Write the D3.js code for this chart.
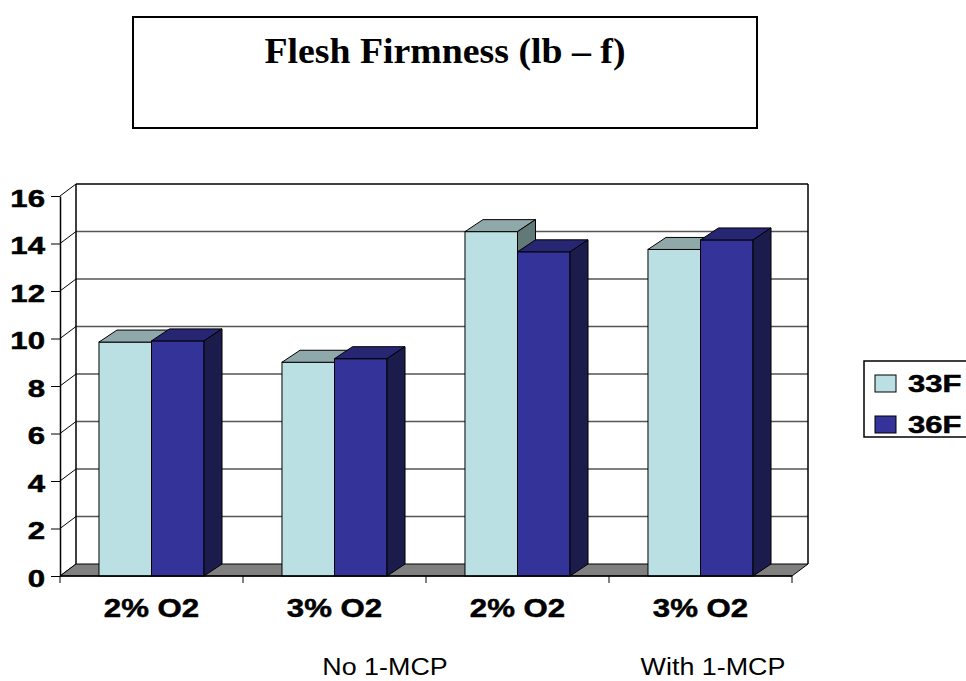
<!DOCTYPE html>
<html>
<head>
<meta charset="utf-8">
<script src="https://cdn.jsdelivr.net/npm/d3@7"></script>
<style>
    body { margin: 0; background: #fff; }
    svg { display: block; }
</style>
</head>
<body>
<svg width="966" height="681"></svg>
<script>
"use strict"

const TITLE = "Flesh Firmness (lb – f)"
const categories = ["2% O2", "3% O2", "2% O2", "3% O2"]
const seriesNames = ["33F", "36F"]
const values33F = [9.85, 9.0, 14.5, 13.75]
const values36F = [9.9, 9.15, 13.65, 14.15]
const yTicks = [0, 2, 4, 6, 8, 10, 12, 14, 16]
const groupLabels = ["No 1-MCP", "With 1-MCP"]

const faces = [
    { front: "#bbe0e3", top: "#8fa9aa", side: "#627a77" },
    { front: "#333399", top: "#262672", side: "#1c1c4c" }
]

const SANS = "Liberation Sans, Arial, sans-serif"

const svg = d3.select("svg")

// depth offsets for the 3d look
const WALL_DX = 16
const WALL_DY = -12
const BAR_DX = 18
const BAR_DY = -12

const y = d3.scaleLinear().domain([0, 16]).range([576, 196])
const x = d3.scaleBand()
    .domain(d3.range(categories.length))
    .range([60, 792])
    .paddingInner(0.426)
    .paddingOuter(0.213)
const xSub = d3.scaleBand().domain([0, 1]).range([0, x.bandwidth()])

const y0 = y(0)
const x0 = 60
const x1 = 792

// the original's bold labels are heavy, a thin outline thickens them
const heavy = (sel) => sel.attr("stroke", "#000").attr("stroke-width", 0.5)

// title box
svg.append("rect")
    .attr("x", 133).attr("y", 17)
    .attr("width", 624).attr("height", 111)
    .attr("fill", "#fff").attr("stroke", "#000").attr("stroke-width", 2)

svg.append("text")
    .attr("transform", "translate(445,63) scale(1.08,1)")
    .attr("text-anchor", "middle")
    .attr("font-family", "Liberation Serif, Times New Roman, serif")
    .attr("font-weight", "bold")
    .attr("font-size", "35px")
    .text(TITLE)

// back wall gridlines
const plot = svg.append("g")
plot.selectAll(".grid")
    .data(yTicks.filter((d) => d > 0))
    .join("line")
    .attr("class", "grid")
    .attr("x1", x0 + WALL_DX).attr("x2", x1 + WALL_DX)
    .attr("y1", (d) => y(d) + WALL_DY).attr("y2", (d) => y(d) + WALL_DY)
    .attr("stroke", (d) => (d === 16 ? "#000" : "#555"))
    .attr("stroke-width", (d) => (d === 16 ? 1.5 : 1.3))

// side wall diagonals
plot.selectAll(".diag")
    .data(yTicks)
    .join("line")
    .attr("class", "diag")
    .attr("x1", x0).attr("x2", x0 + WALL_DX)
    .attr("y1", (d) => y(d)).attr("y2", (d) => y(d) + WALL_DY)
    .attr("stroke", "#000").attr("stroke-width", 1)

// back wall edges
plot.append("line")
    .attr("x1", x0 + WALL_DX).attr("x2", x0 + WALL_DX)
    .attr("y1", y(16) + WALL_DY).attr("y2", y0 + WALL_DY)
    .attr("stroke", "#000").attr("stroke-width", 1.5)
plot.append("line")
    .attr("x1", x1 + WALL_DX).attr("x2", x1 + WALL_DX)
    .attr("y1", y(16) + WALL_DY).attr("y2", y0 + WALL_DY)
    .attr("stroke", "#000").attr("stroke-width", 1.5)

// floor
plot.append("polygon")
    .attr("points", [
        [x0, y0], [x1, y0], [x1 + WALL_DX, y0 + WALL_DY], [x0 + WALL_DX, y0 + WALL_DY]
    ].join(" "))
    .attr("fill", "#808080").attr("stroke", "#000").attr("stroke-width", 1)

// bars
const barData = []
categories.forEach((c, i) => {
    ;[values33F, values36F].forEach((vals, s) => {
        barData.push({ cat: i, series: s, value: vals[i] })
    })
})

const bars = plot.selectAll(".bar")
    .data(barData)
    .join("g")
    .attr("class", "bar")

const bw = xSub.bandwidth()
const bx = (d) => x(d.cat) + xSub(d.series)

bars.append("rect")
    .attr("x", bx)
    .attr("y", (d) => y(d.value))
    .attr("width", bw)
    .attr("height", (d) => y0 - y(d.value))
    .attr("fill", (d) => faces[d.series].front)
    .attr("stroke", "#000").attr("stroke-width", 1)

bars.append("polygon")
    .attr("points", (d) => {
        const l = bx(d)
        const t = y(d.value)
        return [[l, t], [l + bw, t], [l + bw + BAR_DX, t + BAR_DY], [l + BAR_DX, t + BAR_DY]].join(" ")
    })
    .attr("fill", (d) => faces[d.series].top)
    .attr("stroke", "#000").attr("stroke-width", 1)

bars.append("polygon")
    .attr("points", (d) => {
        const r = bx(d) + bw
        const t = y(d.value)
        return [[r, t], [r + BAR_DX, t + BAR_DY], [r + BAR_DX, y0 + BAR_DY], [r, y0]].join(" ")
    })
    .attr("fill", (d) => faces[d.series].side)
    .attr("stroke", "#000").attr("stroke-width", 1)

// y axis
const yAxis = svg.append("g")
    .attr("transform", `translate(${x0},0)`)
    .call(d3.axisLeft(y).tickValues(yTicks).tickSize(9).tickSizeOuter(0))
yAxis.select(".domain").attr("stroke", "#000").attr("stroke-width", 1.5)
yAxis.selectAll(".tick line").attr("stroke", "#000")
yAxis.selectAll(".tick text")
    .attr("x", null).attr("dy", null)
    .attr("transform", "translate(-15,10) scale(1.3,1)")
    .attr("font-family", SANS)
    .attr("font-weight", "bold")
    .attr("font-size", "24px")
    .attr("fill", "#000")
    .call(heavy)

// x axis: ticks sit on the category boundaries
const xAxis = svg.append("g").attr("transform", `translate(0,${y0})`)
xAxis.append("line")
    .attr("x1", x0).attr("x2", x1)
    .attr("stroke", "#000").attr("stroke-width", 1.5)
xAxis.selectAll(".xtick")
    .data(d3.range(categories.length + 1))
    .join("line")
    .attr("class", "xtick")
    .attr("x1", (i) => x0 + i * x.step()).attr("x2", (i) => x0 + i * x.step())
    .attr("y1", 0).attr("y2", 7)
    .attr("stroke", "#000")
xAxis.selectAll(".xlabel")
    .data(categories)
    .join("text")
    .attr("class", "xlabel")
    .attr("transform", (d, i) => `translate(${x(i) + x.bandwidth() / 2},41) scale(1.2,1)`)
    .attr("text-anchor", "middle")
    .attr("font-family", SANS)
    .attr("font-weight", "bold")
    .attr("font-size", "26px")
    .call(heavy)
    .text((d) => d)

// treatment labels under the axis
svg.selectAll(".group")
    .data(groupLabels)
    .join("text")
    .attr("class", "group")
    .attr("transform", (d, i) => `translate(${[385, 713][i]},675) scale(1.12,1)`)
    .attr("text-anchor", "middle")
    .attr("font-family", SANS)
    .attr("font-size", "24px")
    .text((d) => d)

// legend
const legend = svg.append("g").attr("transform", "translate(864,361)")
legend.append("rect")
    .attr("width", 110).attr("height", 76)
    .attr("fill", "#fff").attr("stroke", "#000").attr("stroke-width", 1.5)
const item = legend.selectAll(".item")
    .data(seriesNames)
    .join("g")
    .attr("class", "item")
    .attr("transform", (d, i) => `translate(11,${14 + i * 41})`)
item.append("rect")
    .attr("width", 21).attr("height", 17)
    .attr("fill", (d, i) => faces[i].front)
    .attr("stroke", "#000").attr("stroke-width", 1)
item.append("text")
    .attr("transform", "translate(33,17) scale(1.32,1)")
    .attr("font-family", SANS)
    .attr("font-weight", "bold")
    .attr("font-size", "23.5px")
    .call(heavy)
    .text((d) => d)
</script>
</body>
</html>
